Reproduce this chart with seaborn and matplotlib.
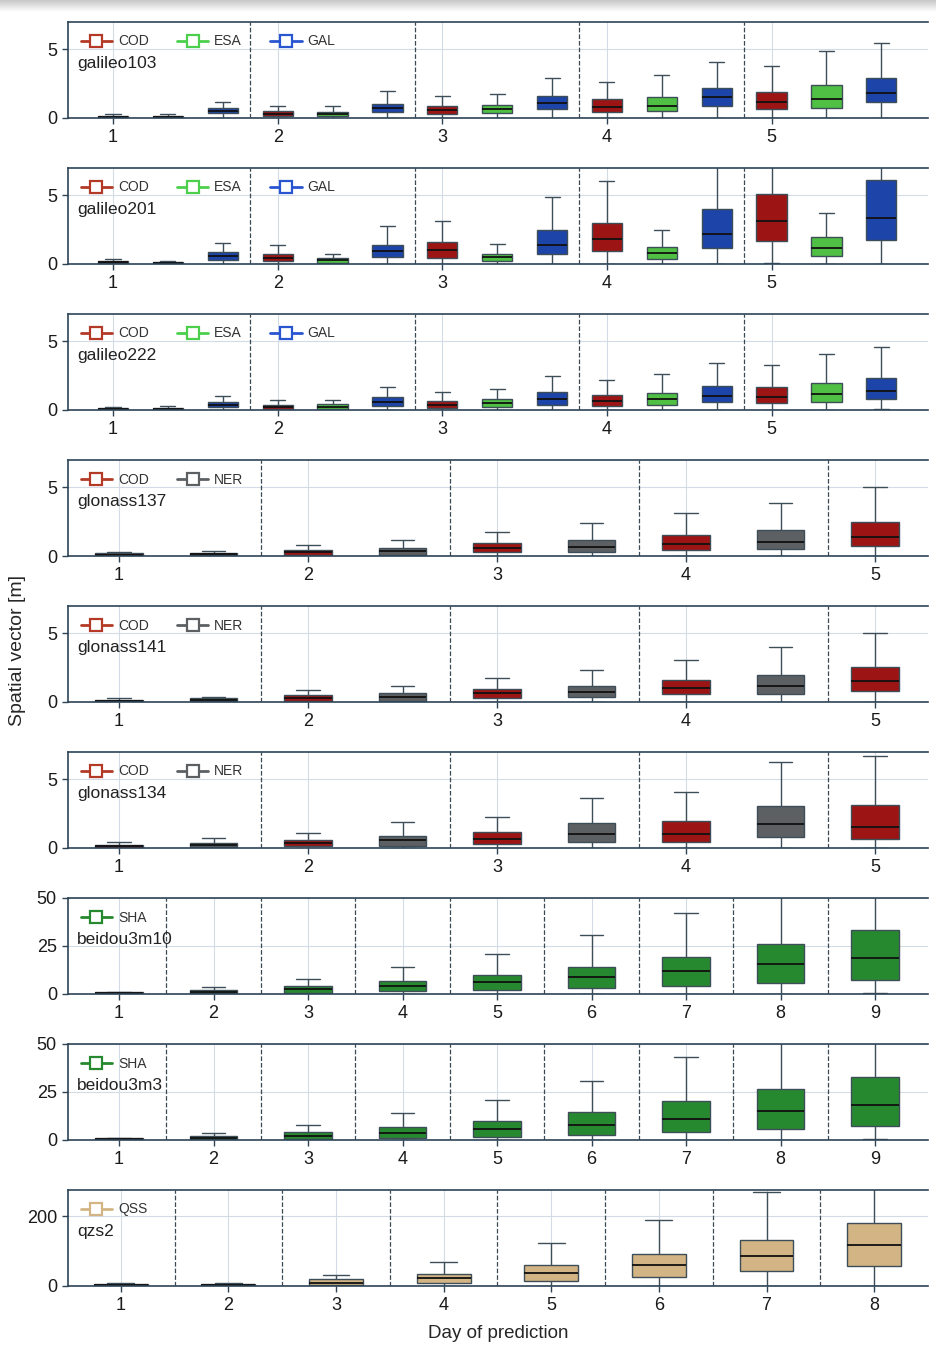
import numpy as np
import pandas as pd
import matplotlib.pyplot as plt
import seaborn as sns
from matplotlib.lines import Line2D

# every box is [low whisker, q1, median, q3, high whisker], one box per day

# galileo103
g103_cod = [[0, 0.05, 0.1, 0.15, 0.3], [0, 0.12, 0.28, 0.5, 0.9], [0, 0.3, 0.55, 0.85, 1.6],
            [0, 0.42, 0.83, 1.35, 2.6], [0, 0.65, 1.2, 1.9, 3.8]]
g103_esa = [[0, 0.05, 0.1, 0.15, 0.3], [0, 0.12, 0.28, 0.45, 0.85], [0, 0.35, 0.65, 0.95, 1.75],
            [0, 0.5, 0.9, 1.55, 3.1], [0, 0.7, 1.4, 2.4, 4.85]]
g103_gal = [[0, 0.35, 0.5, 0.75, 1.2], [0, 0.45, 0.75, 1.05, 1.95], [0, 0.65, 1.1, 1.6, 2.9],
            [0, 0.9, 1.5, 2.2, 4.05], [0, 1.15, 1.85, 2.95, 5.5]]

# galileo201
g201_cod = [[0, 0.05, 0.12, 0.2, 0.35], [0, 0.2, 0.45, 0.7, 1.35], [0, 0.45, 1.0, 1.6, 3.1],
            [0, 0.95, 1.85, 3.0, 6.05], [0.1, 1.65, 3.15, 5.1, 9.0]]
g201_esa = [[0, 0.05, 0.1, 0.15, 0.25], [0, 0.1, 0.28, 0.42, 0.75], [0, 0.25, 0.5, 0.75, 1.45],
            [0, 0.37, 0.78, 1.27, 2.5], [0, 0.6, 1.15, 1.95, 3.75]]
g201_gal = [[0, 0.32, 0.6, 0.85, 1.5], [0, 0.5, 0.95, 1.4, 2.75], [0, 0.75, 1.4, 2.5, 4.9],
            [0, 1.2, 2.2, 4.0, 8.5], [0, 1.75, 3.35, 6.15, 10.0]]

# galileo222
g222_cod = [[0, 0.03, 0.08, 0.15, 0.25], [0, 0.08, 0.25, 0.4, 0.7], [0, 0.15, 0.4, 0.68, 1.3],
            [0, 0.27, 0.65, 1.1, 2.2], [0, 0.5, 0.95, 1.65, 3.25]]
g222_esa = [[0, 0.03, 0.08, 0.15, 0.3], [0, 0.08, 0.22, 0.42, 0.75], [0, 0.22, 0.5, 0.8, 1.5],
            [0, 0.34, 0.78, 1.25, 2.6], [0, 0.55, 1.15, 2.0, 4.05]]
g222_gal = [[0, 0.2, 0.4, 0.6, 1.05], [0, 0.3, 0.6, 0.92, 1.65], [0, 0.4, 0.8, 1.3, 2.5],
            [0, 0.6, 1.05, 1.75, 3.4], [0.05, 0.8, 1.4, 2.35, 4.6]]

# glonass137
r137_cod = [[0, 0.02, 0.1, 0.2, 0.3], [0, 0.08, 0.28, 0.45, 0.82], [0, 0.27, 0.58, 0.92, 1.75],
            [0, 0.45, 0.9, 1.55, 3.1], [0, 0.7, 1.35, 2.45, 5.0]]
r137_ner = [[0, 0.05, 0.15, 0.22, 0.4], [0, 0.06, 0.36, 0.6, 1.2], [0, 0.3, 0.65, 1.2, 2.4],
            [0, 0.5, 1.05, 1.9, 3.85]]

# glonass141
r141_cod = [[0, 0.03, 0.1, 0.17, 0.3], [0, 0.1, 0.3, 0.5, 0.85], [0, 0.32, 0.63, 0.95, 1.72],
            [0, 0.55, 1.0, 1.62, 3.05], [0, 0.78, 1.5, 2.52, 5.0]]
r141_ner = [[0, 0.05, 0.15, 0.27, 0.4], [0, 0.07, 0.37, 0.63, 1.15], [0, 0.34, 0.7, 1.17, 2.32],
            [0, 0.6, 1.15, 2.0, 4.0]]

# glonass134
r134_cod = [[0, 0.03, 0.12, 0.2, 0.45], [0, 0.15, 0.35, 0.55, 1.1], [0, 0.27, 0.65, 1.15, 2.25],
            [0, 0.42, 1.0, 1.95, 4.1], [0, 0.68, 1.5, 3.1, 6.7]]
r134_ner = [[0, 0.05, 0.2, 0.35, 0.72], [0, 0.17, 0.55, 0.9, 1.88], [0, 0.45, 1.0, 1.82, 3.65],
            [0, 0.8, 1.78, 3.05, 6.3]]

# beidou3m10 / beidou3m3
c10_sha = [[0, 0.3, 0.6, 0.9, 1.2], [0, 0.3, 1.0, 2.0, 3.6], [0, 0.4, 2.5, 4.2, 7.8],
           [0, 1.6, 4.2, 6.8, 14], [0, 2.1, 6.2, 9.7, 21], [0, 3.0, 8.7, 14.2, 30.5],
           [0, 4.2, 12, 19.5, 42], [0, 5.6, 15.6, 26, 55], [0.7, 7.3, 19, 33.2, 60]]
c3_sha = [[0, 0.3, 0.6, 0.9, 1.2], [0, 0.3, 1.1, 2.0, 3.4], [0, 0.3, 2.2, 4.2, 8],
          [0, 0.9, 3.4, 6.9, 14], [0, 1.8, 5.6, 10, 21], [0, 2.6, 7.9, 14.6, 30.8],
          [0, 4.2, 11.1, 20.2, 43], [0, 5.6, 15, 26.4, 55], [0.7, 7.2, 18.1, 32.9, 60]]

# qzs2
j2_qss = [[0, 1, 2.5, 4.5, 9], [0, 1, 3, 5, 9], [0, 2, 10, 19, 31], [0, 8, 22, 35, 70],
          [0, 15, 38, 60, 122], [0, 26, 60, 92, 188], [0, 43, 86, 133, 268], [0, 56, 118, 181, 320]]

colors = {"COD": "#9c1414", "ESA": "#4fc043", "GAL": "#1d44a8",
          "NER": "#5c6062", "SHA": "#27892f", "QSS": "#d3b585"}
handle_colors = {"COD": "#b23a26", "ESA": "#4ccf4c", "GAL": "#2a55d0",
                 "NER": "#5c6062", "SHA": "#27892f", "QSS": "#d3b585"}

panels = [
    ("galileo103", [("COD", g103_cod), ("ESA", g103_esa), ("GAL", g103_gal)], 5, 7, [0, 5], (-0.82, 14.85)),
    ("galileo201", [("COD", g201_cod), ("ESA", g201_esa), ("GAL", g201_gal)], 5, 7, [0, 5], (-0.82, 14.85)),
    ("galileo222", [("COD", g222_cod), ("ESA", g222_esa), ("GAL", g222_gal)], 5, 7, [0, 5], (-0.82, 14.85)),
    ("glonass137", [("COD", r137_cod), ("NER", r137_ner)], 5, 7, [0, 5], (-0.54, 8.56)),
    ("glonass141", [("COD", r141_cod), ("NER", r141_ner)], 5, 7, [0, 5], (-0.54, 8.56)),
    ("glonass134", [("COD", r134_cod), ("NER", r134_ner)], 5, 7, [0, 5], (-0.54, 8.56)),
    ("beidou3m10", [("SHA", c10_sha)], 9, 50, [0, 25, 50], (-0.54, 8.56)),
    ("beidou3m3", [("SHA", c3_sha)], 9, 50, [0, 25, 50], (-0.54, 8.56)),
    ("qzs2", [("QSS", j2_qss)], 8, 275, [0, 200], (-0.49, 7.5)),
]

sns.set_style("ticks")
plt.rcParams['font.family'] = ['Liberation Sans', 'DejaVu Sans']

W, H = 936, 1354
fig = plt.figure(figsize=(W / 100, H / 100), dpi=100)

# grey shadow band at the very top
sh = fig.add_axes([0, 1 - 12 / H, 1, 12 / H])
sh.imshow(np.linspace(0.78, 1.0, 50).reshape(-1, 1), cmap="gray", vmin=0, vmax=1,
          aspect="auto", extent=[0, 1, 0, 1])
sh.axis("off")

spine_c = "#2e4456"
for i, (name, series, ndays, ytop, yticks, xlim) in enumerate(panels):
    top = 22 + 146 * i
    ax = fig.add_axes([68 / W, 1 - (top + 96) / H, 860 / W, 96 / H])
    k = len(series)
    rows = []
    for s_i, (lab, boxes) in enumerate(series):
        for d, stats in enumerate(boxes):
            for v in stats:
                rows.append((d * k + s_i, lab, v))
    df = pd.DataFrame(rows, columns=["slot", "series", "value"])
    width = 0.55 if k == 3 else 0.5
    sns.boxplot(data=df, x="slot", y="value", hue="series", palette=colors,
                native_scale=True, dodge=False, width=width, whis=(0, 100),
                saturation=1, linecolor="#3e4e59", linewidth=1.0, showfliers=False,
                legend=False, medianprops=dict(color="#111111", linewidth=1.3), ax=ax)

    for d in range(1, ndays):
        xs = d * k - 0.5
        if xs < xlim[1]:
            ax.axvline(xs, color="#3a4a55", ls="--", lw=0.9, zorder=1)

    ax.set_xlim(*xlim)
    ax.set_ylim(0, ytop)
    ax.set_yticks(yticks)
    ax.set_xticks([d * k for d in range(ndays)])
    ax.set_xticklabels([str(d + 1) for d in range(ndays)])
    ax.grid(True, color="#d3dce6", lw=0.8)
    ax.set_axisbelow(True)
    ax.tick_params(labelsize=13, length=4, width=1, color=spine_c, pad=4,
                   labelcolor="#1a1a1a")
    for sp in ["left", "top", "bottom"]:
        ax.spines[sp].set_color(spine_c)
        ax.spines[sp].set_linewidth(1.2)
    ax.spines["right"].set_visible(False)
    ax.set_ylabel("")
    ax.set_xlabel("")

    handles = [Line2D([], [], color=handle_colors[lab], lw=2, marker="s", markersize=8,
                      markerfacecolor="white", markeredgewidth=1.6) for lab, _ in series]
    ax.legend(handles, [lab for lab, _ in series], loc="upper left", ncol=3, frameon=False,
              fontsize=10, handlelength=2.3, handletextpad=0.4, columnspacing=2.0,
              borderaxespad=0.5, labelcolor="#333333")
    ax.text(0.0105, 0.57, name, transform=ax.transAxes, fontsize=12.5, va="center",
            color="#222222")

ax.set_xlabel("Day of prediction", fontsize=13.5, labelpad=8)
fig.text(18 / W, 1 - 650 / H, "Spatial vector [m]", rotation=90, ha="center",
         va="center", fontsize=14)

fig.savefig("out.png", dpi=100)
